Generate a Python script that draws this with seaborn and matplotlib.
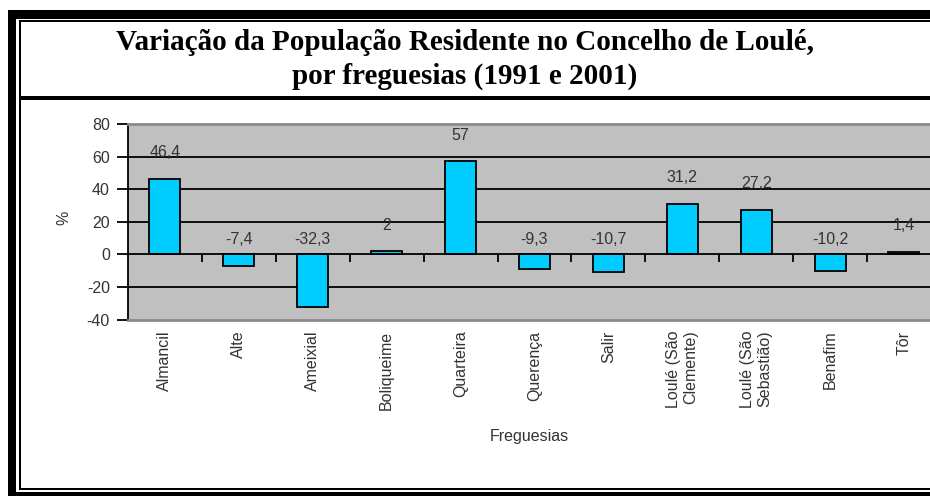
import matplotlib
matplotlib.use("Agg")
import matplotlib.pyplot as plt
from matplotlib.patches import Rectangle
import seaborn as sns
import pandas as pd

# ---- data ----
freguesias = ["Almancil", "Alte", "Ameixial", "Boliqueime", "Quarteira", "Querença",
              "Salir", "Loulé (São\nClemente)", "Loulé (São\nSebastião)", "Benafim", "Tôr"]
variacao = [46.4, -7.4, -32.3, 2, 57, -9.3, -10.7, 31.2, 27.2, -10.2, 1.4]
y_ticks = [-40, -20, 0, 20, 40, 60, 80]
title_text = "Variação da População Residente no Concelho de Loulé,\npor freguesias (1991 e 2001)"
x_label = "Freguesias"
y_label = "%"

df = pd.DataFrame({"freguesia": freguesias, "valor": variacao})

sns.set_theme(style="white")
plt.rcParams["font.family"] = ["Liberation Sans", "DejaVu Sans"]
plt.rcParams["axes.unicode_minus"] = False

W, H = 930, 496
fig = plt.figure(figsize=(W / 100, H / 100), dpi=100)
fig.patch.set_facecolor("white")


def px_rect(x0, y0, x1, y1, color="black"):
    fig.add_artist(Rectangle((x0 / W, 1 - y1 / H), (x1 - x0) / W, (y1 - y0) / H,
                             transform=fig.transFigure, facecolor=color,
                             edgecolor="none", zorder=10))


# frame
px_rect(8, 10, 930, 19)     # outer top band
px_rect(8, 10, 16, 496)     # outer left band
px_rect(8, 491.5, 930, 496)  # outer bottom band
px_rect(19, 20, 21, 490)    # inner left line
px_rect(19, 20, 930, 22)    # inner top line
px_rect(19, 488, 930, 490)  # inner bottom line
px_rect(19, 96, 930, 99.5)  # title separator

# title
fig.text(465 / W, 1 - 59.5 / H, title_text, ha="center", va="center",
         fontsize=21, fontweight="bold", family=["Liberation Serif", "DejaVu Serif"],
         linespacing=1.3, color="black")

# axes
ax_l, ax_r, ax_t, ax_b = 128, 930, 124, 319.5
ax = fig.add_axes([ax_l / W, 1 - ax_b / H, (ax_r - ax_l) / W, (ax_b - ax_t) / H])
ax.set_facecolor("#c0c0c0")

sns.barplot(data=df, x="freguesia", y="valor", color="#00CCFF", saturation=1,
            edgecolor="black", linewidth=1.3, width=0.42, ax=ax, zorder=3)

ax.set_ylim(-40, 80)
ax.set_yticks(y_ticks)
n = len(freguesias)
ax.set_xlim(-0.5, -0.5 + (ax_r - ax_l) / 73.9)

for v in y_ticks[1:-1]:
    if v != 0:
        ax.axhline(v, color="black", lw=1.3, zorder=1)
ax.axhline(0, color="black", lw=1.3, zorder=4)

# category boundary tick marks on zero line
bounds = [i + 0.5 for i in range(n - 1)]
ax.vlines(bounds, 0, -4.6, color="black", lw=1.3, zorder=4)

for s in ["top", "bottom"]:
    ax.spines[s].set_color("#8a8a8a")
    ax.spines[s].set_linewidth(2)
ax.spines["left"].set_color("black")
ax.spines["left"].set_linewidth(1.3)
ax.spines["right"].set_visible(False)

ax.tick_params(axis="y", direction="out", length=8, width=1.3, color="black",
               pad=5, labelsize=11.5, labelcolor="#333333", left=True)
ax.tick_params(axis="x", length=0, pad=8, labelsize=11.5, labelcolor="#333333")
for lab in ax.get_xticklabels():
    lab.set_rotation(90)
    lab.set_ha("center")
    lab.set_va("top")
    lab.set_multialignment("right")

# value labels
for i, v in enumerate(variacao):
    ypos = v + 16 if v > 0 else 9.4
    ax.text(i, ypos, f"{v:g}".replace(".", ","), ha="center", va="center",
            fontsize=11.5, color="#333333", zorder=5)

ax.set_ylabel(y_label, fontsize=11.5, color="#333333")
ax.yaxis.set_label_coords(-0.071, 0.52)
ax.set_xlabel(x_label, fontsize=11.5, color="#333333")
ax.xaxis.set_label_coords(0.5, -0.56)

fig.savefig("out.png", dpi=100)
